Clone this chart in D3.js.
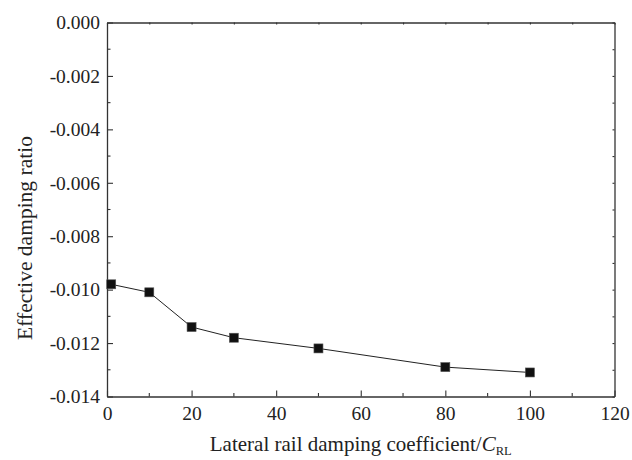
<!DOCTYPE html>
<html>
<head>
<meta charset="utf-8">
<script src="https://cdn.jsdelivr.net/npm/d3@7"></script>
<style>
  body { margin: 0; background: #fff; }
  svg { display: block; }
  svg text { font-family: 'Liberation Serif', 'Times New Roman', Times, serif !important; fill: #222; }
</style>
</head>
<body>
<svg id="chart" width="632" height="460"></svg>
<script>
// damping coefficient (multiples of C_RL) and effective damping ratio
let xValues = [1, 10, 20, 30, 50, 80, 100];
let yValues = [-0.0098, -0.0101, -0.0114, -0.0118, -0.0122, -0.0129, -0.0131];
let xTicks = [0, 20, 40, 60, 80, 100, 120];
let yTicks = [0, -0.002, -0.004, -0.006, -0.008, -0.010, -0.012, -0.014];

let margin = {top: 22.5, right: 17.5, bottom: 63.5, left: 107},
    width = 632 - margin.left - margin.right,
    height = 460 - margin.top - margin.bottom;

let svg = d3.select("#chart");
let chart = svg.append("g")
    .attr("transform", "translate(" + margin.left + "," + margin.top + ")");

let xScale = d3.scaleLinear().domain([0, 120]).range([0, width]);
let yScale = d3.scaleLinear().domain([-0.014, 0]).range([height, 0]);

let points = xValues.map((x, i) => ({x: x, y: yValues[i]}));

// minor tick positions
let xMinor = d3.range(10, 120, 20);
let yMinor = d3.range(-0.013, 0, 0.002);

function styleAxis(g) {
    g.attr("font-family", null);
    g.select(".domain").attr("stroke", "#333").attr("stroke-width", 1.3);
    g.selectAll(".tick line").attr("stroke", "#333").attr("stroke-width", 1.1);
    g.selectAll("text").attr("font-size", 19.5).attr("fill", "#222");
}

// bottom axis
let xAxis = chart.append("g")
    .attr("transform", "translate(0," + height + ")")
    .call(d3.axisBottom(xScale).tickValues(xTicks).tickSizeInner(-6).tickSizeOuter(0).tickPadding(9.5));
styleAxis(xAxis);
xAxis.selectAll(".minor").data(xMinor).enter().append("line")
    .attr("x1", d => xScale(d)).attr("x2", d => xScale(d))
    .attr("y1", 0).attr("y2", -3.5)
    .attr("stroke", "#333").attr("stroke-width", 1.1);

// left axis
let yAxis = chart.append("g")
    .call(d3.axisLeft(yScale).tickValues(yTicks)
        .tickFormat(d => d === 0 ? "0.000" : d3.format(".3f")(d).replace("−", "-"))
        .tickSizeInner(-6).tickSizeOuter(0).tickPadding(7));
styleAxis(yAxis);
yAxis.selectAll(".minor").data(yMinor).enter().append("line")
    .attr("y1", d => yScale(d)).attr("y2", d => yScale(d))
    .attr("x1", 0).attr("x2", 3.5)
    .attr("stroke", "#333").attr("stroke-width", 1.1);

// top and right mirror axes (no labels)
let topAxis = chart.append("g")
    .call(d3.axisTop(xScale).tickValues(xTicks.concat(xMinor)).tickSizeInner(-2).tickSizeOuter(0).tickFormat(""));
styleAxis(topAxis);
let rightAxis = chart.append("g")
    .attr("transform", "translate(" + width + ",0)")
    .call(d3.axisRight(yScale).tickValues(yTicks.concat(yMinor)).tickSizeInner(-2).tickSizeOuter(0).tickFormat(""));
styleAxis(rightAxis);

// series line
let line = d3.line().x(d => xScale(d.x)).y(d => yScale(d.y));
chart.append("path")
    .datum(points)
    .attr("d", line)
    .attr("fill", "none")
    .attr("stroke", "#222")
    .attr("stroke-width", 1);

// square markers
let size = 9;
chart.selectAll(".marker")
    .data(points)
    .enter().append("rect")
    .attr("class", "marker")
    .attr("x", d => xScale(d.x) - size / 2)
    .attr("y", d => yScale(d.y) - size / 2)
    .attr("width", size)
    .attr("height", size)
    .attr("fill", "#111")
    .attr("stroke", "#555")
    .attr("stroke-width", 0.6);

// axis titles
let xTitle = svg.append("text")
    .attr("x", margin.left + width / 2)
    .attr("y", 451)
    .attr("text-anchor", "middle")
    .attr("font-size", 21);
xTitle.append("tspan").text("Lateral rail damping coefficient/");
xTitle.append("tspan").attr("font-style", "italic").text("C");
xTitle.append("tspan").attr("font-size", 12.5).attr("dy", 4).text("RL");

svg.append("text")
    .attr("transform", "translate(32,238) rotate(-90)")
    .attr("text-anchor", "middle")
    .attr("font-size", 21.5)
    .text("Effective damping ratio");
</script>
</body>
</html>
